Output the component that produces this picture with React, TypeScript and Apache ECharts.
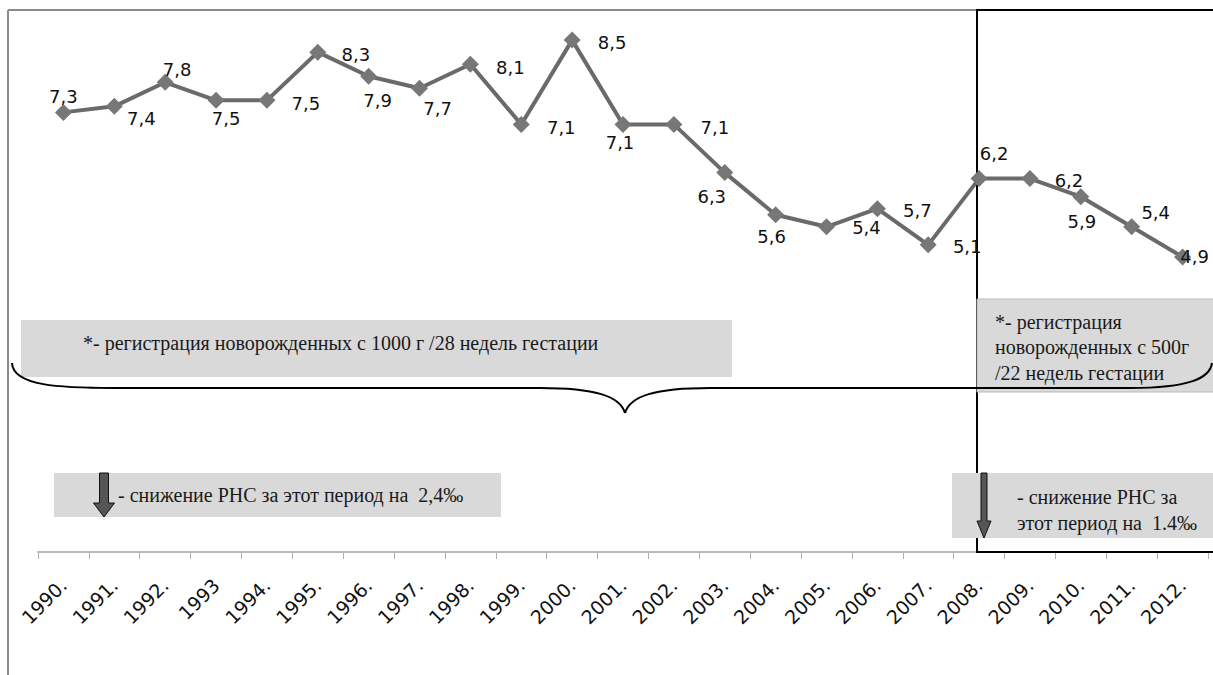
import React, { useEffect, useRef } from "react";
import * as echarts from "echarts";

const years = ["1990.", "1991.", "1992.", "1993", "1994.", "1995.", "1996.", "1997.", "1998.", "1999.", "2000.", "2001.", "2002.", "2003.", "2004.", "2005.", "2006.", "2007.", "2008.", "2009.", "2010.", "2011.", "2012."];
const rates = [7.3, 7.4, 7.8, 7.5, 7.5, 8.3, 7.9, 7.7, 8.1, 7.1, 8.5, 7.1, 7.1, 6.3, 5.6, 5.4, 5.7, 5.1, 6.2, 6.2, 5.9, 5.4, 4.9];
const labelOffsets = [[0, -16], [27, 12], [12, -13], [10, 18], [39, 3], [38, 2], [9, 24], [18, 20], [40, 3], [40, 3], [40, 2], [-3, 18], [41, 3], [-13, 24], [-4, 22], [40, 1], [40, 2], [39, 2], [15, -25], [39, 2], [1, 25], [24, -14], [12, 0]];

const noteLeft = "*- регистрация новорожденных с 1000 г /28 недель гестации";
const noteRight = ["*- регистрация", "новорожденных с 500г", "/22 недель гестации"];
const dropLeft = "- снижение РНС за этот период на  2,4‰";
const dropRight = ["- снижение РНС за", "этот период на  1.4‰"];

const SERIF = '"Liberation Serif", "Times New Roman", serif';

function serifText(text: string, x: number, y: number, size = 20) {
  return {
    type: "text",
    z: 6,
    style: { text, x, y, fill: "#1a1a1a", fontSize: size, fontFamily: SERIF, verticalAlign: "middle", align: "left" },
  };
}

function arrow(cx: number, top: number, headY: number, tip: number, shaftW: number, headW: number) {
  return {
    type: "polygon",
    z: 7,
    shape: {
      points: [
        [cx - shaftW / 2, top], [cx + shaftW / 2, top], [cx + shaftW / 2, headY], [cx + headW / 2, headY],
        [cx, tip], [cx - headW / 2, headY], [cx - shaftW / 2, headY],
      ],
    },
    style: { fill: "#555", stroke: "#111", lineWidth: 1 },
  };
}

export default function App() {
  const ref = useRef<HTMLDivElement>(null);
  useEffect(() => {
    document.body.style.margin = "0";
    const chart = echarts.init(ref.current!, undefined, { renderer: "svg" });
    const braceStyle = { stroke: "#000", lineWidth: 2, fill: "none" };
    chart.setOption({
      animation: false,
      backgroundColor: "#fff",
      grid: { left: 38, right: 5, top: 10, bottom: 123 },
      xAxis: {
        type: "category",
        data: years,
        boundaryGap: true,
        axisLine: { lineStyle: { color: "#b8b8b8", width: 2 } },
        axisTick: { show: true, length: 7, lineStyle: { color: "#b0b0b0", width: 1 } },
        axisLabel: { rotate: 45, margin: 30, interval: 0, fontSize: 19, fontFamily: '"DejaVu Sans", sans-serif', color: "#111" },
      },
      yAxis: { type: "value", min: 0, max: 9, show: false, splitLine: { show: false } },
      series: [
        {
          type: "line",
          z: 4,
          data: rates.map((v, i) => ({ value: v, label: { offset: labelOffsets[i] } })),
          symbol: "diamond",
          symbolSize: 17,
          itemStyle: { color: "#777" },
          lineStyle: { color: "#6a6a6a", width: 4 },
          label: {
            show: true,
            position: "inside",
            fontSize: 18,
            fontFamily: '"DejaVu Sans", sans-serif',
            color: "#111",
            formatter: (p: any) => Number(p.value).toFixed(1).replace(".", ","),
          },
        },
      ],
      graphic: [
        { type: "line", z: 1, shape: { x1: 8, y1: 10, x2: 1213, y2: 10 }, style: { stroke: "#8c8c8c", lineWidth: 2 } },
        { type: "line", z: 1, shape: { x1: 8, y1: 10, x2: 8, y2: 675 }, style: { stroke: "#8c8c8c", lineWidth: 2 } },
        { type: "rect", z: 2, shape: { x: 977, y: 10, width: 240, height: 542 }, style: { fill: "none", stroke: "#000", lineWidth: 2 } },
        { type: "rect", z: 5, shape: { x: 21, y: 320, width: 711, height: 57 }, style: { fill: "#d9d9d9" } },
        { type: "rect", z: 5, shape: { x: 977, y: 299, width: 240, height: 93 }, style: { fill: "#d9d9d9", stroke: "#bbb", lineWidth: 1 } },
        { type: "rect", z: 5, shape: { x: 54, y: 473, width: 447, height: 44 }, style: { fill: "#d9d9d9" } },
        { type: "rect", z: 5, shape: { x: 952, y: 473, width: 265, height: 65 }, style: { fill: "#d9d9d9" } },
        serifText(noteLeft, 83, 343),
        serifText(noteRight[0], 995, 322),
        serifText(noteRight[1], 995, 347),
        serifText(noteRight[2], 995, 373),
        serifText(dropLeft, 118, 495),
        serifText(dropRight[0], 1017, 497),
        serifText(dropRight[1], 1017, 523),
        { type: "bezierCurve", z: 8, shape: { x1: 12, y1: 363, cpx1: 13, cpy1: 386, cpx2: 60, cpy2: 388, x2: 115, y2: 388 }, style: braceStyle },
        { type: "line", z: 8, shape: { x1: 115, y1: 388, x2: 540, y2: 388 }, style: { stroke: "#000", lineWidth: 2 } },
        { type: "bezierCurve", z: 8, shape: { x1: 540, y1: 388, cpx1: 595, cpy1: 388, cpx2: 620, cpy2: 396, x2: 625, y2: 413 }, style: braceStyle },
        { type: "bezierCurve", z: 8, shape: { x1: 625, y1: 413, cpx1: 630, cpy1: 396, cpx2: 655, cpy2: 388, x2: 710, y2: 388 }, style: braceStyle },
        { type: "line", z: 8, shape: { x1: 710, y1: 388, x2: 1130, y2: 388 }, style: { stroke: "#000", lineWidth: 2 } },
        { type: "bezierCurve", z: 8, shape: { x1: 1130, y1: 388, cpx1: 1190, cpy1: 388, cpx2: 1210, cpy2: 378, x2: 1212, y2: 363 }, style: braceStyle },
        arrow(104, 473, 503, 517, 9, 21),
        arrow(984, 473, 521, 538, 6, 14),
      ],
    });
    return () => chart.dispose();
  }, []);
  return <div ref={ref} style={{ width: 1213, height: 675 }} />;
}
